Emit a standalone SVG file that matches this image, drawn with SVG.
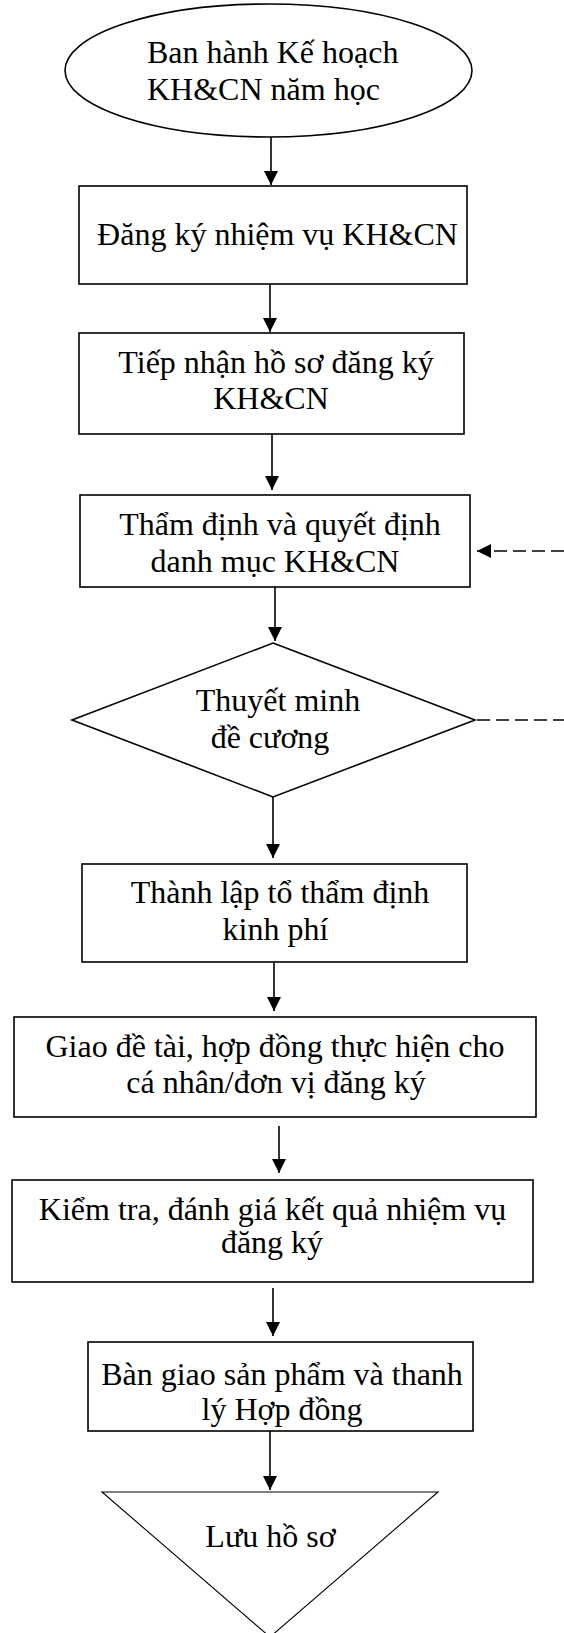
<svg xmlns="http://www.w3.org/2000/svg" width="564" height="1633" viewBox="0 0 564 1633">
<style>
.s{fill:#fff;stroke:#000;stroke-width:1.6}
.t{fill:#000;font-family:"Liberation Serif","Times New Roman",serif;font-size:32px;text-anchor:middle}
.c{stroke:#000;stroke-width:1.6;fill:none}
.d{stroke:#000;stroke-width:1.6;fill:none;stroke-dasharray:13 6}
</style>
<defs>
<marker id="ah" markerUnits="userSpaceOnUse" markerWidth="15" markerHeight="15" refX="14" refY="7" orient="auto">
<path d="M0,0 L14,7 L0,14 z" fill="#000"/>
</marker>
</defs>
<rect width="564" height="1633" fill="#fff"/>
<g id="connectors">
<line class="c" x1="271" y1="137" x2="271" y2="185" marker-end="url(#ah)"/>
<line class="c" x1="270" y1="284" x2="270" y2="332" marker-end="url(#ah)"/>
<line class="c" x1="272" y1="434" x2="272" y2="490" marker-end="url(#ah)"/>
<line class="c" x1="275" y1="587" x2="275" y2="641" marker-end="url(#ah)"/>
<line class="c" x1="273" y1="797" x2="273" y2="858" marker-end="url(#ah)"/>
<line class="c" x1="274" y1="963" x2="274" y2="1011" marker-end="url(#ah)"/>
<line class="c" x1="279" y1="1126" x2="279" y2="1173" marker-end="url(#ah)"/>
<line class="c" x1="273" y1="1288" x2="273" y2="1336" marker-end="url(#ah)"/>
<line class="c" x1="270" y1="1431" x2="270" y2="1490" marker-end="url(#ah)"/>
<line class="d" x1="564" y1="551" x2="477" y2="551" marker-end="url(#ah)"/>
<line class="d" x1="477" y1="720" x2="564" y2="720"/>
</g>
<g id="n1">
<ellipse class="s" cx="268.5" cy="70.5" rx="203.5" ry="66.5"/>
<text class="t" style="text-anchor:start" x="147" y="63">Ban hành Kế hoạch</text>
<text class="t" style="text-anchor:start" x="147" y="100">KH&amp;CN năm học</text>
</g>
<g id="n2">
<rect class="s" x="79" y="186" width="388" height="98"/>
<text class="t" x="277.5" y="245">Đăng ký nhiệm vụ KH&amp;CN</text>
</g>
<g id="n3">
<rect class="s" x="79" y="333" width="385" height="101"/>
<text class="t" x="276" y="373">Tiếp nhận hồ sơ đăng ký</text>
<text class="t" x="271" y="409">KH&amp;CN</text>
</g>
<g id="n4">
<rect class="s" x="80" y="495" width="390" height="92"/>
<text class="t" x="280" y="535">Thẩm định và quyết định</text>
<text class="t" x="275" y="572">danh mục KH&amp;CN</text>
</g>
<g id="n5">
<polygon class="s" points="273,643 475,720 273,797 72,720"/>
<text class="t" x="278" y="711">Thuyết minh</text>
<text class="t" x="270" y="748">đề cương</text>
</g>
<g id="n6">
<rect class="s" x="82" y="864" width="385" height="98"/>
<text class="t" x="280" y="903">Thành lập tổ thẩm định</text>
<text class="t" x="275.5" y="940">kinh phí</text>
</g>
<g id="n7">
<rect class="s" x="14" y="1017" width="522" height="100"/>
<text class="t" x="275" y="1057">Giao đề tài, hợp đồng thực hiện cho</text>
<text class="t" x="276" y="1093">cá nhân/đơn vị đăng ký</text>
</g>
<g id="n8">
<rect class="s" x="12" y="1180" width="521" height="102"/>
<text class="t" x="272.5" y="1220">Kiểm tra, đánh giá kết quả nhiệm vụ</text>
<text class="t" x="272" y="1253">đăng ký</text>
</g>
<g id="n9">
<rect class="s" x="88" y="1342" width="385" height="89"/>
<text class="t" x="282" y="1385">Bàn giao sản phẩm và thanh</text>
<text class="t" x="282" y="1420">lý Hợp đồng</text>
</g>
<g id="n10">
<polygon class="s" style="stroke-width:1.1" points="102,1492 438,1492 270,1637"/>
<text class="t" x="270.5" y="1547">Lưu hồ sơ</text>
</g>
</svg>
